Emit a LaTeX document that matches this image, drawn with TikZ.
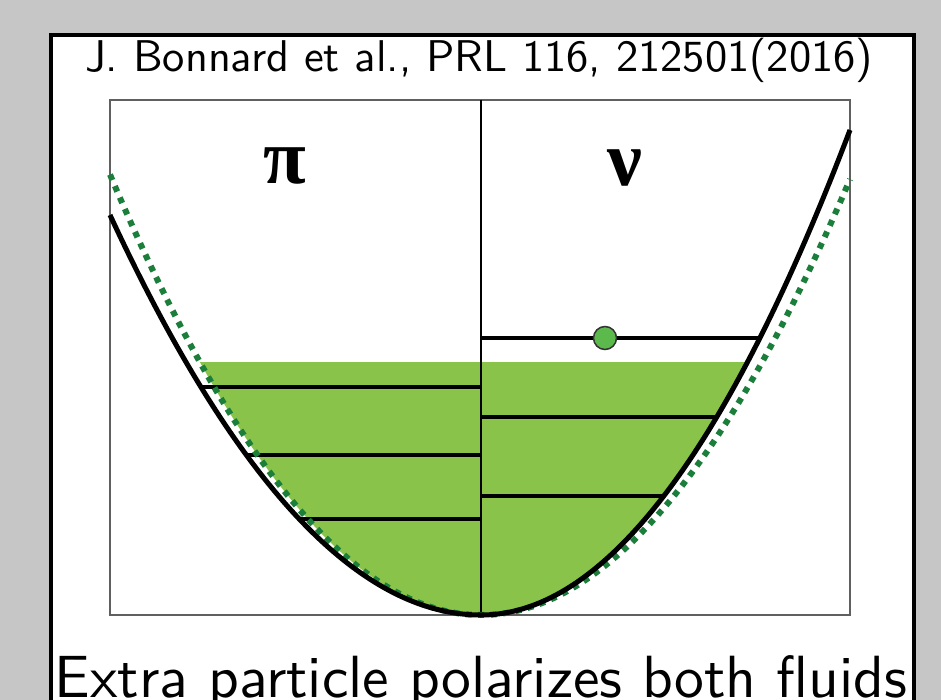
\documentclass[tikz,border=0pt]{standalone}
\usepackage{fontspec}
\newfontfamily\greekfont{Liberation Serif}
\definecolor{bggray}{HTML}{C5C6C5}
\definecolor{fillgreen}{HTML}{8AC349}
\definecolor{dotgreen}{HTML}{5CB94B}
\definecolor{dashgreen}{HTML}{1B7F3B}
\definecolor{boxgray}{HTML}{606060}
\tikzset{
  level/.style={line width=3.2pt, black},
  curve/.style={line width=5pt, black, line join=round},
  refcurve/.style={line width=6pt, dashgreen, dash pattern=on 6pt off 6.5pt},
  titletext/.style={inner sep=0pt, anchor=base},
}
\begin{document}
\begin{tikzpicture}[x=1pt,y=-1pt]
\useasboundingbox (0,0) rectangle (941,700);
\fill[bggray] (0,0) rectangle (941,700);
\draw[line width=4pt, fill=white] (51,35) rectangle (914,720);
% title
\node[titletext] (title) at (479,72) {\resizebox{788pt}{!}{\sffamily J. Bonnard et al., PRL 116, 212501(2016)}};
% inner frame
\draw[boxgray, line width=2pt] (110,100) rectangle (850,615);
% green fill: inside both wells, below the Fermi level
\begin{scope}
  \clip plot[domain=110:481, samples=80] (\x, {615-29.06*((\x-481)/100)^2})
        -- plot[domain=481:850, samples=80] (\x, {615-35.62*((\x-481)/100)^2}) -- cycle;
  \clip plot[domain=110:850, samples=120] (\x, {615-32.0*((\x-481)/100)^2}) -- cycle;
  \fill[fillgreen] (100,362) rectangle (860,630);
\end{scope}
% proton levels
\coordinate (pl1) at (201,387); \coordinate (pr1) at (481,387);
\coordinate (pl2) at (246,455); \coordinate (pr2) at (481,455);
\coordinate (pl3) at (299,519); \coordinate (pr3) at (481,519);
\draw[level] (pl1) -- (pr1);
\draw[level] (pl2) -- (pr2);
\draw[level] (pl3) -- (pr3);
% neutron levels
\coordinate (nl0) at (481,338); \coordinate (nr0) at (760,338);
\coordinate (nl1) at (481,417); \coordinate (nr1) at (717,417);
\coordinate (nl2) at (481,496); \coordinate (nr2) at (664,496);
\draw[level] (nl0) -- (nr0);
\draw[level] (nl1) -- (nr1);
\draw[level] (nl2) -- (nr2);
% divider
\coordinate (dtop) at (481,100); \coordinate (dbot) at (481,614);
\draw[line width=2pt] (dtop) -- (dbot);
% reference (dashed) well
\draw[refcurve] plot[domain=110:850, samples=120] (\x, {615-32.0*((\x-481)/100)^2});
% actual wells
\draw[curve] plot[domain=110:481, samples=100] (\x, {615-29.06*((\x-481)/100)^2})
   -- plot[domain=481:850, samples=100] (\x, {615-35.62*((\x-481)/100)^2});
% extra particle
\node[circle, fill=dotgreen, draw=black!80, line width=1.5pt, minimum size=23pt, inner sep=0pt] (particle) at (605,338) {};
% labels
\node[inner sep=0pt] (protonlabel) at (285,166) {\greekfont\bfseries\fontsize{78}{78}\selectfont π};
\node[inner sep=0pt] (neutronlabel) at (625,168) {\greekfont\bfseries\fontsize{78}{78}\selectfont ν};
\node[titletext] (caption) at (481,697) {\resizebox{852pt}{!}{\sffamily Extra particle polarizes both fluids}};
\end{tikzpicture}
\end{document}
